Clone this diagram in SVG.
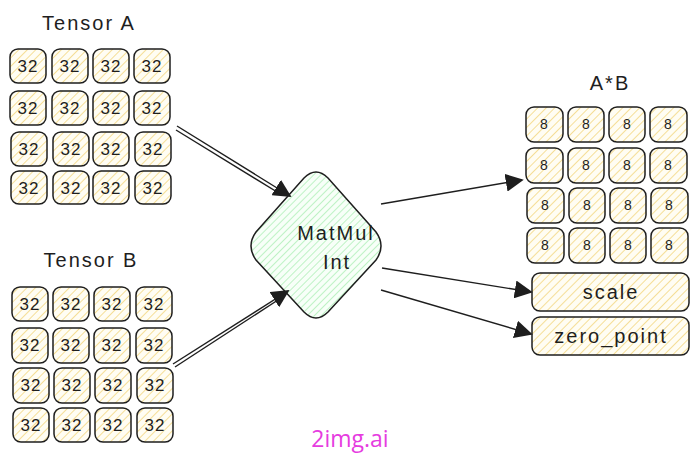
<svg xmlns="http://www.w3.org/2000/svg" width="700" height="454" viewBox="0 0 700 454">
<defs>
<pattern id="hy" width="6" height="6" patternUnits="userSpaceOnUse" patternTransform="rotate(45)">
<rect width="6" height="6" fill="#fffdf3"/>
<line x1="0" y1="0" x2="0" y2="6" stroke="#f3d77f" stroke-width="1.6"/>
</pattern>
<pattern id="hg" width="5" height="5" patternUnits="userSpaceOnUse" patternTransform="rotate(45)">
<rect width="5" height="5" fill="#f7fff8"/>
<line x1="0" y1="0" x2="0" y2="5" stroke="#a5edb0" stroke-width="1.4"/>
</pattern>
<marker id="ah" viewBox="0 0 10 10" refX="9" refY="5" markerWidth="18" markerHeight="18" markerUnits="userSpaceOnUse" orient="auto">
<path d="M0,0 L10,5 L0,10 Z" fill="#1e1e1e"/>
</marker>
</defs>
<style>
.c{fill:url(#hy);stroke:#1e1e1e;stroke-width:1.5}
.t{font-family:"Liberation Sans","DejaVu Sans",sans-serif;fill:#1e1e1e;text-anchor:middle;dominant-baseline:central}
.n{font-size:17px;letter-spacing:1px}
.e{font-size:14px}
.h{font-size:20px;letter-spacing:2px}
.cn{fill:none;stroke:#1e1e1e;stroke-width:1.4}
</style>
<rect width="700" height="454" fill="#ffffff"/>

<g id="tensorA">
<text class="t h" x="89" y="23">Tensor A</text>
<g id="a-cells">
<rect class="c" x="10" y="49" width="36" height="34" rx="8"/><text class="t n" x="28" y="66">32</text>
<rect class="c" x="52" y="49" width="36" height="34" rx="8"/><text class="t n" x="70" y="66">32</text>
<rect class="c" x="93" y="49" width="36" height="34" rx="8"/><text class="t n" x="111" y="66">32</text>
<rect class="c" x="134" y="49" width="36" height="34" rx="8"/><text class="t n" x="152" y="66">32</text>
<rect class="c" x="10" y="91" width="36" height="34" rx="8"/><text class="t n" x="28" y="108">32</text>
<rect class="c" x="52" y="91" width="36" height="34" rx="8"/><text class="t n" x="70" y="108">32</text>
<rect class="c" x="93" y="91" width="36" height="34" rx="8"/><text class="t n" x="111" y="108">32</text>
<rect class="c" x="134" y="91" width="36" height="34" rx="8"/><text class="t n" x="152" y="108">32</text>
<rect class="c" x="11" y="132" width="36" height="34" rx="8"/><text class="t n" x="29" y="149">32</text>
<rect class="c" x="53" y="132" width="36" height="34" rx="8"/><text class="t n" x="71" y="149">32</text>
<rect class="c" x="93" y="132" width="36" height="34" rx="8"/><text class="t n" x="111" y="149">32</text>
<rect class="c" x="135" y="132" width="36" height="34" rx="8"/><text class="t n" x="153" y="149">32</text>
<rect class="c" x="11" y="171" width="36" height="33" rx="8"/><text class="t n" x="29" y="188">32</text>
<rect class="c" x="53" y="171" width="36" height="33" rx="8"/><text class="t n" x="71" y="188">32</text>
<rect class="c" x="93" y="171" width="36" height="33" rx="8"/><text class="t n" x="111" y="188">32</text>
<rect class="c" x="135" y="171" width="36" height="33" rx="8"/><text class="t n" x="153" y="188">32</text>
</g>
</g>

<g id="tensorB">
<text class="t h" x="91" y="260">Tensor B</text>
<g id="b-cells">
<rect class="c" x="12" y="287" width="36" height="34" rx="8"/><text class="t n" x="30" y="304">32</text>
<rect class="c" x="53" y="287" width="36" height="34" rx="8"/><text class="t n" x="71" y="304">32</text>
<rect class="c" x="94" y="287" width="36" height="34" rx="8"/><text class="t n" x="112" y="304">32</text>
<rect class="c" x="136" y="287" width="36" height="34" rx="8"/><text class="t n" x="154" y="304">32</text>
<rect class="c" x="12" y="328" width="36" height="35" rx="8"/><text class="t n" x="30" y="345">32</text>
<rect class="c" x="53" y="328" width="36" height="35" rx="8"/><text class="t n" x="71" y="345">32</text>
<rect class="c" x="94" y="328" width="36" height="35" rx="8"/><text class="t n" x="112" y="345">32</text>
<rect class="c" x="136" y="328" width="36" height="35" rx="8"/><text class="t n" x="154" y="345">32</text>
<rect class="c" x="13" y="368" width="36" height="35" rx="8"/><text class="t n" x="31" y="385">32</text>
<rect class="c" x="54" y="368" width="36" height="35" rx="8"/><text class="t n" x="72" y="385">32</text>
<rect class="c" x="95" y="368" width="36" height="35" rx="8"/><text class="t n" x="113" y="385">32</text>
<rect class="c" x="137" y="368" width="36" height="35" rx="8"/><text class="t n" x="155" y="385">32</text>
<rect class="c" x="13" y="408" width="36" height="34" rx="8"/><text class="t n" x="31" y="425">32</text>
<rect class="c" x="54" y="408" width="36" height="34" rx="8"/><text class="t n" x="72" y="425">32</text>
<rect class="c" x="95" y="408" width="36" height="34" rx="8"/><text class="t n" x="113" y="425">32</text>
<rect class="c" x="137" y="408" width="36" height="34" rx="8"/><text class="t n" x="155" y="425">32</text>
</g>
</g>

<g id="matmul">
<path d="M304,178 Q316,166 328,178 L376,232 Q386,246 376,260 L328,312 Q316,324 304,312 L256,260 Q246,246 256,232 Z" fill="url(#hg)" stroke="#1e1e1e" stroke-width="1.5"/>
<text class="t h" x="336" y="233">MatMul</text>
<text class="t h" x="337" y="262">Int</text>
</g>

<g id="result">
<text class="t h" x="610" y="83">A*B</text>
<g id="r-cells">
<rect class="c" x="526" y="107" width="37" height="35" rx="8"/><text class="t e" x="544" y="124">8</text>
<rect class="c" x="568" y="107" width="36" height="35" rx="8"/><text class="t e" x="586" y="124">8</text>
<rect class="c" x="609" y="107" width="36" height="35" rx="8"/><text class="t e" x="627" y="124">8</text>
<rect class="c" x="650" y="107" width="37" height="35" rx="8"/><text class="t e" x="668" y="124">8</text>
<rect class="c" x="526" y="148" width="37" height="35" rx="8"/><text class="t e" x="544" y="165">8</text>
<rect class="c" x="568" y="148" width="36" height="35" rx="8"/><text class="t e" x="586" y="165">8</text>
<rect class="c" x="609" y="148" width="36" height="35" rx="8"/><text class="t e" x="627" y="165">8</text>
<rect class="c" x="650" y="148" width="37" height="35" rx="8"/><text class="t e" x="668" y="165">8</text>
<rect class="c" x="527" y="188" width="37" height="35" rx="8"/><text class="t e" x="545" y="205">8</text>
<rect class="c" x="569" y="188" width="36" height="35" rx="8"/><text class="t e" x="587" y="205">8</text>
<rect class="c" x="610" y="188" width="36" height="35" rx="8"/><text class="t e" x="628" y="205">8</text>
<rect class="c" x="651" y="188" width="37" height="35" rx="8"/><text class="t e" x="669" y="205">8</text>
<rect class="c" x="527" y="228" width="37" height="35" rx="8"/><text class="t e" x="545" y="245">8</text>
<rect class="c" x="569" y="228" width="36" height="35" rx="8"/><text class="t e" x="587" y="245">8</text>
<rect class="c" x="610" y="228" width="36" height="35" rx="8"/><text class="t e" x="628" y="245">8</text>
<rect class="c" x="651" y="228" width="37" height="35" rx="8"/><text class="t e" x="669" y="245">8</text>
</g>
</g>

<g id="scale">
<rect class="c" x="532" y="273" width="157" height="38" rx="8"/>
<text class="t h" x="611" y="292">scale</text>
</g>

<g id="zero_point">
<rect class="c" x="532" y="317" width="157" height="38" rx="8"/>
<text class="t h" x="611" y="336">zero_point</text>
</g>

<g id="connectors">
<line class="cn" x1="177" y1="126" x2="290" y2="196" marker-end="url(#ah)"/>
<line class="cn" x1="176" y1="130" x2="282" y2="195"/>
<line class="cn" x1="173" y1="364" x2="288" y2="291" marker-end="url(#ah)"/>
<line class="cn" x1="175" y1="367" x2="281" y2="298"/>
<line class="cn" x1="381" y1="204" x2="522" y2="180" marker-end="url(#ah)"/>
<line class="cn" x1="382" y1="268" x2="531" y2="292" marker-end="url(#ah)"/>
<line class="cn" x1="381" y1="290" x2="531" y2="334" marker-end="url(#ah)"/>
</g>

<text x="350" y="447" font-family="'Open Sans','DejaVu Sans',sans-serif" font-size="23" fill="#e63ce0" text-anchor="middle">2img.ai</text>
</svg>
